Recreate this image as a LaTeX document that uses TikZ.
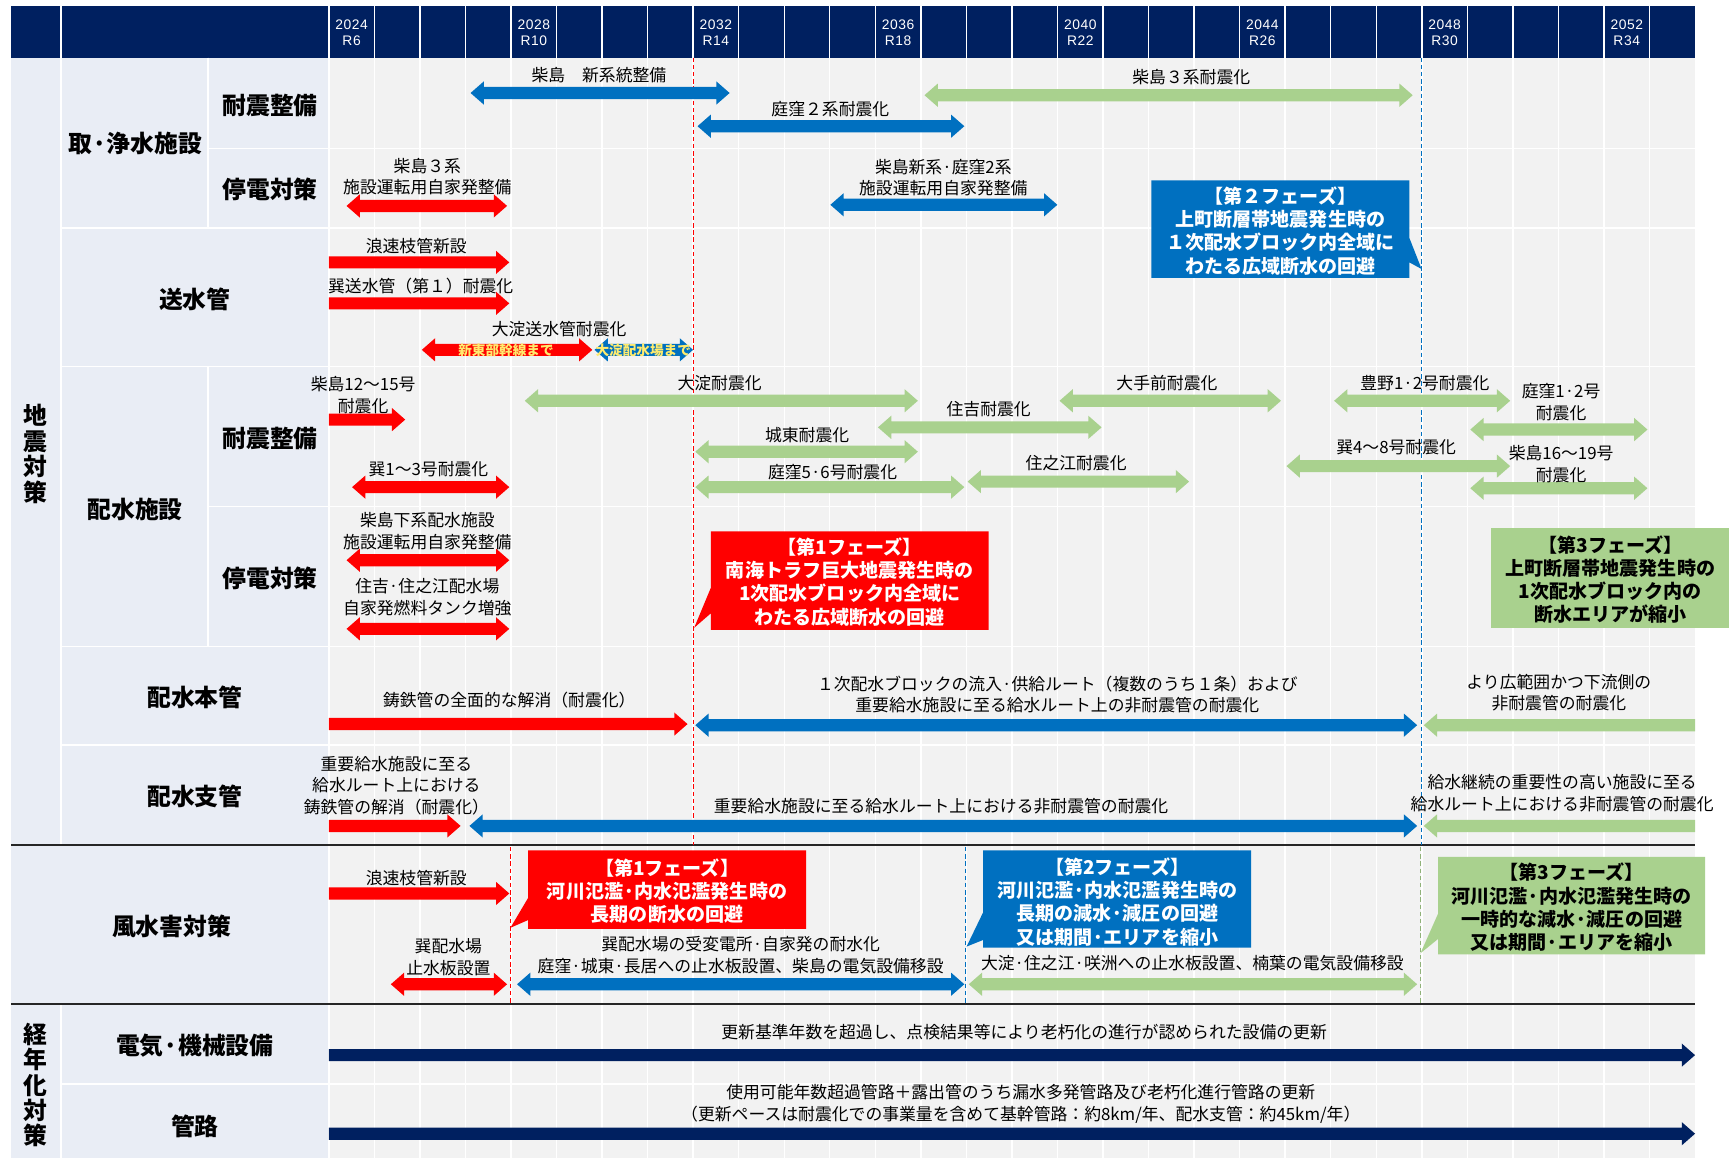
\documentclass[tikz,border=0pt]{standalone}
\usepackage{fontspec}
\newfontfamily\jp{Noto Sans CJK JP}
\newfontfamily\hdrfont{Liberation Sans}[LetterSpace=4]
\definecolor{cNavy}{HTML}{002060}
\definecolor{cBlue}{HTML}{0070C0}
\definecolor{cRed}{HTML}{FF0000}
\definecolor{cGreen}{HTML}{A9D18E}
\definecolor{cLbl}{HTML}{E9EDF5}
\definecolor{cGrid}{HTML}{F2F2F2}
\definecolor{cYel}{HTML}{FFEB6E}
\newcommand{\gbarB}[4]{\fill[#1] (#2,#4) -- (#2+12,#4-10.5) -- (#2+12,#4-5.5) -- (#3-12,#4-5.5) -- (#3-12,#4-10.5) -- (#3,#4) -- (#3-12,#4+10.5) -- (#3-12,#4+5.5) -- (#2+12,#4+5.5) -- (#2+12,#4+10.5) -- cycle;}
\newcommand{\gbarR}[4]{\fill[#1] (#2,#4-5.5) -- (#3-12,#4-5.5) -- (#3-12,#4-10.5) -- (#3,#4) -- (#3-12,#4+10.5) -- (#3-12,#4+5.5) -- (#2,#4+5.5) -- cycle;}
\newcommand{\gbarL}[4]{\fill[#1] (#2,#4) -- (#2+12,#4-10.5) -- (#2+12,#4-5.5) -- (#3,#4-5.5) -- (#3,#4+5.5) -- (#2+12,#4+5.5) -- (#2+12,#4+10.5) -- cycle;}
\tikzset{
  lbl/.style={font=\jp\fontsize{15.2}{19.5}\selectfont, align=center, inner sep=0pt, text=black},
  cat/.style={font=\jp\bfseries\fontsize{21.5}{23}\selectfont, align=center, inner sep=0pt, text=black},
  call/.style={font=\jp\bfseries\fontsize{17.2}{21}\selectfont, align=center, inner sep=0pt},
  inarr/.style={font=\jp\bfseries\fontsize{12.3}{13}\selectfont, text=cYel, inner sep=0pt},
  hdr/.style={font=\hdrfont\fontsize{12.5}{15}\selectfont, text=white, align=center, inner sep=0pt},
  gline/.style={white, line width=1.3pt},
  sepline/.style={black!85, line width=2pt},
  phase/.style={dash pattern=on 4pt off 2.5pt, line width=1pt},
}
\begin{document}
\begin{tikzpicture}[x=1pt,y=-1pt]
\useasboundingbox (0,0) rectangle (1568,1046);
% backgrounds
\fill[cLbl] (10,52) rectangle (297,1046);
\fill[cGrid] (297,52) rectangle (1531,1046);
\fill[cNavy] (10,5) rectangle (1531,52);
% year grid
\foreach \k in {1,...,29}{\draw[gline] ({297+41.133*\k},5) -- ({297+41.133*\k},1046);}
\draw[gline] (297,5) -- (297,1046);
\draw[gline] (55,5) -- (55,763);
\draw[gline] (55,907) -- (55,1046);
\draw[gline] (188,52) -- (188,206);
\draw[gline] (188,331) -- (188,584);
% horizontal white lines
\draw[gline] (188,134) -- (1531,134);
\draw[gline] (55,206) -- (1531,206);
\draw[gline] (55,331) -- (1531,331);
\draw[gline] (188,457.5) -- (1531,457.5);
\draw[gline] (55,584) -- (1531,584);
\draw[gline] (55,673) -- (1531,673);
\draw[gline] (55,979) -- (1531,979);
% black separators
\draw[sepline] (10,763.5) -- (1531,763.5);
\draw[sepline] (10,907) -- (1531,907);
% header labels
\foreach \k in {0,4,...,28}{
  \pgfmathtruncatemacro{\yr}{2024+\k}
  \pgfmathtruncatemacro{\rr}{6+\k}
  \node[hdr] (hy\k) at ({297+41.133*(\k+0.5)},29.5) {\yr\\R\rr};
}
% phase dashed lines
\draw[phase, cRed] (626,52) -- (626,763);
\draw[phase, cBlue] (1284,52) -- (1284,763);
\draw[phase, cRed] (461,765) -- (461,906);
\draw[phase, cBlue] (872,765) -- (872,906);
\draw[phase, cGreen!85!black] (1283,765) -- (1283,906);
% arrows
\gbarB{cBlue}{425}{659}{84}
\gbarB{cBlue}{630}{871}{114}
\gbarB{cGreen}{835}{1276}{86}
\gbarB{cRed}{313}{458}{186}
\gbarB{cBlue}{750}{955}{185}
\gbarR{cRed}{297}{460}{237}
\gbarR{cRed}{297}{460}{274}
\gbarB{cRed}{381}{535}{316}
\gbarB{cBlue}{537}{626}{316}
\gbarR{cRed}{297}{366}{379}
\gbarB{cGreen}{474}{829}{362}
\gbarB{cGreen}{793}{995}{386}
\gbarB{cGreen}{957}{1157}{362}
\gbarB{cGreen}{1205}{1364}{362}
\gbarB{cGreen}{1328}{1488}{388}
\gbarB{cGreen}{628}{829}{408}
\gbarB{cRed}{318}{460}{440}
\gbarB{cGreen}{628}{871}{440}
\gbarB{cGreen}{874}{1074}{435}
\gbarB{cGreen}{1162}{1364}{421}
\gbarB{cGreen}{1328}{1488}{441}
\gbarB{cRed}{313}{460}{506}
\gbarB{cRed}{313}{460}{568}
\gbarR{cRed}{297}{621}{654}
\gbarB{cBlue}{628}{1280}{655}
\gbarL{cGreen}{1286}{1531}{655}
\gbarR{cRed}{297}{416}{746}
\gbarB{cBlue}{424}{1280}{746}
\gbarL{cGreen}{1286}{1531}{746}
\gbarR{cRed}{297}{460}{807}
\gbarB{cRed}{353}{458}{889}
\gbarB{cBlue}{467}{871}{889}
\gbarB{cGreen}{875}{1280}{889}
\gbarR{cNavy}{297}{1531}{953}
\gbarR{cNavy}{297}{1531}{1024}
% callouts
\fill[cBlue] (1040,163) -- (1273,163) -- (1273,215) -- (1284,243) -- (1273,237) -- (1273,251) -- (1040,251) -- cycle;
\node[call, text=white] (c1) at (1156.5,208.5) {【第２フェーズ】\\上町断層帯地震発生時の\\１次配水ブロック内全域に\\わたる広域断水の回避};
\fill[cRed] (642,480) -- (893,480) -- (893,569) -- (642,569) -- (642,554) -- (627,567) -- (642,531) -- cycle;
\node[call, text=white] (c2) at (767.5,525.5) {【第1フェーズ】\\南海トラフ巨大地震発生時の\\1次配水ブロック内全域に\\わたる広域断水の回避};
\fill[cGreen] (1347,477) rectangle (1562,567);
\node[call, text=black] (c3) at (1454.5,523.5) {【第3フェーズ】\\上町断層帯地震発生時の\\1次配水ブロック内の\\断水エリアが縮小};
\fill[cRed] (477,768) -- (728,768) -- (728,839) -- (477,839) -- (477,831) -- (461,838) -- (477,811) -- cycle;
\node[call, text=white] (c4) at (602.5,805) {【第1フェーズ】\\河川氾濫·内水氾濫発生時の\\長期の断水の回避};
\fill[cBlue] (888,768) -- (1130,768) -- (1130,856) -- (888,856) -- (888,849) -- (873,855) -- (888,824) -- cycle;
\node[call, text=white] (c5) at (1009,814.5) {【第2フェーズ】\\河川氾濫·内水氾濫発生時の\\長期の減水·減圧の回避\\又は期間·エリアを縮小};
\fill[cGreen] (1299,774) -- (1540,774) -- (1540,862) -- (1299,862) -- (1299,848) -- (1283,861) -- (1299,825) -- cycle;
\node[call, text=black] (c6) at (1419.5,819.5) {【第3フェーズ】\\河川氾濫·内水氾濫発生時の\\一時的な減水·減圧の回避\\又は期間·エリアを縮小};
% category labels
\node[cat] (k0) at (32,410) {地\\震\\対\\策};
\node[cat] (k00) at (32,980) {経\\年\\化\\対\\策};
\node[cat] (k1) at (122,130) {取·浄水施設};
\node[cat] (k2) at (244,95) {耐震整備};
\node[cat] (k3) at (244,171) {停電対策};
\node[cat] (k4) at (176,270) {送水管};
\node[cat] (k5) at (122,460) {配水施設};
\node[cat] (k6) at (244,396) {耐震整備};
\node[cat] (k7) at (244,522) {停電対策};
\node[cat] (k8) at (176,630) {配水本管};
\node[cat] (k9) at (176,719) {配水支管};
\node[cat] (k10) at (155,837) {風水害対策};
\node[cat] (k11) at (176,944) {電気·機械設備};
\node[cat] (k12) at (176,1017) {管路};
% item labels
\node[lbl] (t1) at (541,68) {柴島　新系統整備};
\node[lbl] (t2) at (750,99) {庭窪２系耐震化};
\node[lbl] (t3) at (1076,70) {柴島３系耐震化};
\node[lbl] (t4) at (386,159.5) {柴島３系\\施設運転用自家発整備};
\node[lbl] (t5) at (852,160.5) {柴島新系·庭窪2系\\施設運転用自家発整備};
\node[lbl] (t6) at (376,222) {浪速枝管新設};
\node[lbl] (t7) at (380,258) {巽送水管（第１）耐震化};
\node[lbl] (t8) at (505,297) {大淀送水管耐震化};
\node[inarr] (t9) at (457,316) {新東部幹線まで};
\node[inarr] (t10) at (581,316) {大淀配水場まで};
\node[lbl] (t11) at (328,357) {柴島12～15号\\耐震化};
\node[lbl] (t12) at (650,346) {大淀耐震化};
\node[lbl] (t13) at (893,370) {住吉耐震化};
\node[lbl] (t14) at (1054,346) {大手前耐震化};
\node[lbl] (t15) at (1287,346) {豊野1·2号耐震化};
\node[lbl] (t16) at (1410,363) {庭窪1·2号\\耐震化};
\node[lbl] (t17) at (729,393) {城東耐震化};
\node[lbl] (t18) at (387,424) {巽1～3号耐震化};
\node[lbl] (t19) at (752,426) {庭窪5·6号耐震化};
\node[lbl] (t20) at (972,418) {住之江耐震化};
\node[lbl] (t21) at (1261,404) {巽4～8号耐震化};
\node[lbl] (t22) at (1410,419) {柴島16～19号\\耐震化};
\node[lbl] (t23) at (386,479.5) {柴島下系配水施設\\施設運転用自家発整備};
\node[lbl] (t24) at (386,539.5) {住吉·住之江配水場\\自家発燃料タンク増強};
\node[lbl] (t25) at (460,632) {鋳鉄管の全面的な解消（耐震化）};
\node[lbl] (t26) at (955,627.5) {１次配水ブロックの流入·供給ルート（複数のうち１条）および\\重要給水施設に至る給水ルート上の非耐震管の耐震化};
\node[lbl] (t27) at (1408,625.5) {より広範囲かつ下流側の\\非耐震管の耐震化};
\node[lbl] (t28) at (358,709.5) {重要給水施設に至る\\給水ルート上における\\鋳鉄管の解消（耐震化）};
\node[lbl] (t29) at (850,728) {重要給水施設に至る給水ルート上における非耐震管の耐震化};
\node[lbl] (t30) at (1411,716.5) {給水継続の重要性の高い施設に至る\\給水ルート上における非耐震管の耐震化};
\node[lbl] (t31) at (376,793) {浪速枝管新設};
\node[lbl] (t32) at (405,864.5) {巽配水場\\止水板設置};
\node[lbl] (t33) at (669,862.5) {巽配水場の受変電所·自家発の耐水化\\庭窪·城東·長居への止水板設置、柴島の電気設備移設};
\node[lbl] (t34) at (1077,870) {大淀·住之江·咲洲への止水板設置、楠葉の電気設備移設};
\node[lbl] (t35) at (925,932) {更新基準年数を超過し、点検結果等により老朽化の進行が認められた設備の更新};
\node[lbl] (t36) at (922,997) {使用可能年数超過管路＋露出管のうち漏水多発管路及び老朽化進行管路の更新\\（更新ペースは耐震化での事業量を含めて基幹管路：約8km/年、配水支管：約45km/年）};
\end{tikzpicture}
\end{document}
